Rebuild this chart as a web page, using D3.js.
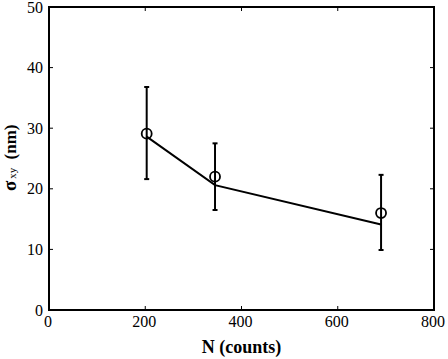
<!DOCTYPE html>
<html>
<head>
<meta charset="utf-8">
<script src="https://cdn.jsdelivr.net/npm/d3@7"></script>
<style>
  body { margin: 0; background: #fff; }
  svg text { font-family: "Liberation Serif", "Times New Roman", serif; fill: #000; }
</style>
</head>
<body>
<div id="chart"></div>
<script>
// measured points (circles) with error bars
const counts = [203, 345, 690];
const sigma = [29.1, 22.0, 16.0];
const errLow = [21.6, 16.5, 9.9];
const errHigh = [36.8, 27.5, 22.3];

// line series
const lineCounts = [203, 345, 690];
const lineSigma = [28.6, 20.6, 14.1];

const xTicks = [0, 200, 400, 600, 800];
const yTicks = [0, 10, 20, 30, 40, 50];

const width = 448, height = 359;
const margin = {top: 7, right: 14, bottom: 49, left: 49};

const svg = d3.select("#chart").append("svg")
  .attr("width", width)
  .attr("height", height);

const x = d3.scaleLinear().domain([0, 800]).range([margin.left, width - margin.right]);
const y = d3.scaleLinear().domain([0, 50]).range([height - margin.bottom, margin.top]);

const tickLen = 4;

// ticks, inward on all four sides
xTicks.forEach(t => {
  svg.append("line").attr("x1", x(t)).attr("x2", x(t))
    .attr("y1", y(0)).attr("y2", y(0) - tickLen)
    .attr("stroke", "#000").attr("stroke-width", 1);
  svg.append("line").attr("x1", x(t)).attr("x2", x(t))
    .attr("y1", y(50)).attr("y2", y(50) + tickLen)
    .attr("stroke", "#000").attr("stroke-width", 1);
  svg.append("text").attr("x", x(t) - 1).attr("y", y(0) + 16.5)
    .attr("text-anchor", "middle").attr("font-size", 16)
    .text(t);
});

yTicks.forEach(t => {
  svg.append("line").attr("x1", x(0)).attr("x2", x(0) + tickLen)
    .attr("y1", y(t)).attr("y2", y(t))
    .attr("stroke", "#000").attr("stroke-width", 1);
  svg.append("line").attr("x1", x(800)).attr("x2", x(800) - tickLen)
    .attr("y1", y(t)).attr("y2", y(t))
    .attr("stroke", "#000").attr("stroke-width", 1);
  svg.append("text").attr("x", x(0) - 6).attr("y", y(t) + 5.5)
    .attr("text-anchor", "end").attr("font-size", 16)
    .text(t);
});

// box
svg.append("rect")
  .attr("x", x(0)).attr("y", y(50))
  .attr("width", x(800) - x(0)).attr("height", y(0) - y(50))
  .attr("fill", "none").attr("stroke", "#000").attr("stroke-width", 2);

// line
const line = d3.line().x(d => x(d[0])).y(d => y(d[1]));
svg.append("path")
  .datum(lineCounts.map((c, i) => [c, lineSigma[i]]))
  .attr("d", line)
  .attr("fill", "none").attr("stroke", "#000").attr("stroke-width", 2);

// error bars
counts.forEach((c, i) => {
  svg.append("line").attr("x1", x(c)).attr("x2", x(c))
    .attr("y1", y(errLow[i])).attr("y2", y(errHigh[i]))
    .attr("stroke", "#000").attr("stroke-width", 2);
  [errLow[i], errHigh[i]].forEach(v => {
    svg.append("line").attr("x1", x(c) - 2.5).attr("x2", x(c) + 2.5)
      .attr("y1", y(v)).attr("y2", y(v))
      .attr("stroke", "#000").attr("stroke-width", 2);
  });
});

// circles
svg.selectAll(".pt")
  .data(counts)
  .enter().append("circle")
  .attr("class", "pt")
  .attr("cx", d => x(d))
  .attr("cy", (d, i) => y(sigma[i]))
  .attr("r", 5)
  .attr("fill", "none").attr("stroke", "#000").attr("stroke-width", 1.8);

// axis labels
svg.append("text")
  .attr("x", (x(0) + x(800)) / 2).attr("y", 353)
  .attr("text-anchor", "middle").attr("font-size", 18).attr("font-weight", "bold")
  .text("N (counts)");

const yl = svg.append("text")
  .attr("transform", "translate(16,191) rotate(-90)")
  .attr("text-anchor", "start");
yl.append("tspan").attr("font-weight", "bold").attr("font-size", 19).text("σ");
yl.append("tspan").attr("font-size", 11).attr("dx", 2).text("xy");
yl.append("tspan").attr("font-weight", "bold").attr("font-size", 17).attr("dx", 4).text(" (nm)");
</script>
</body>
</html>
